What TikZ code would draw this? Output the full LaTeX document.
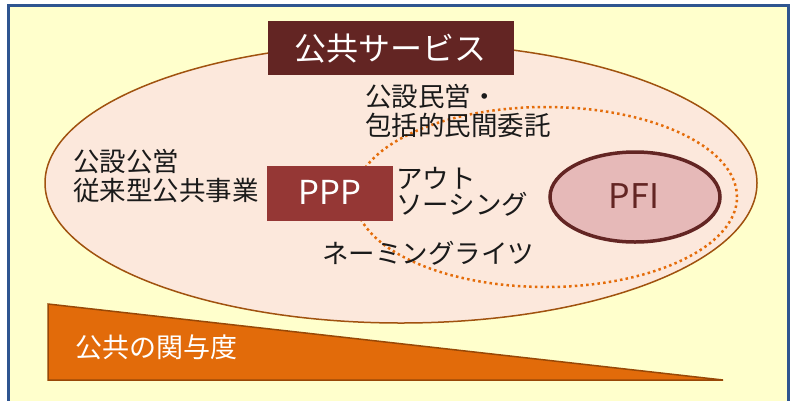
\documentclass[tikz,border=0pt]{standalone}
\usepackage{fontspec}
\setmainfont{Noto Sans CJK JP}
\usetikzlibrary{shapes.geometric}
\definecolor{bgyellow}{HTML}{FFFFCC}
\definecolor{framec}{HTML}{2F5590}
\definecolor{ellfill}{HTML}{FCE8DC}
\definecolor{elldraw}{HTML}{A0520F}
\definecolor{titlec}{HTML}{632523}
\definecolor{pppc}{HTML}{953735}
\definecolor{pfifill}{HTML}{E6B9B8}
\definecolor{dotc}{HTML}{E46C0A}
\definecolor{trifill}{HTML}{E26B0A}
\definecolor{tridraw}{HTML}{984807}
\definecolor{txt}{HTML}{1A1A1A}
\tikzset{
  lbl/.style={anchor=base west, inner sep=0pt, text=txt, font=\fontsize{26.5}{28}\selectfont},
}
\begin{document}
\begin{tikzpicture}[x=1pt,y=-1pt]
\useasboundingbox (0,0) rectangle (795,400);
\clip (0,0) rectangle (795,400);
\fill[white] (0,0) rectangle (795,400);
% frame
\draw[framec, line width=3pt, fill=bgyellow] (8,5) rectangle (788,412);
% big ellipse
\node[ellipse, draw=elldraw, line width=1.5pt, fill=ellfill, minimum width=712pt, minimum height=280pt, inner sep=0pt] (big) at (401,183) {};
% dotted ellipse
\node[ellipse, draw=dotc, line width=2.5pt, dash pattern=on 2.5pt off 3.2pt, minimum width=382pt, minimum height=180pt, inner sep=0pt] (dots) at (546,197) {};
% PFI
\node[ellipse, draw=titlec, line width=3.5pt, fill=pfifill, minimum width=170pt, minimum height=90pt, inner sep=0pt] (pfi) at (635,197) {};
\node[anchor=base, inner sep=0pt, text=titlec, font=\fontsize{34}{34}\selectfont] (pfit) at (634,208) {PFI};
% title
\node[fill=titlec, minimum width=246pt, minimum height=54pt, inner sep=0pt] (title) at (391,48) {};
\node[anchor=base, inner sep=0pt, text=white, font=\fontsize{32}{32}\selectfont] (titlet) at (390,60) {公共サービス};
% PPP
\node[fill=pppc, minimum width=126pt, minimum height=55pt, inner sep=0pt] (ppp) at (330,193.5) {};
\node[anchor=base, inner sep=0pt, text=white, font=\fontsize{33}{33}\selectfont] (pppt) at (330,204.5) {PPP};
% labels
\node[lbl] (a1) at (73,171) {公設公営};
\node[lbl] (a2) at (73,200) {従来型公共事業};
\node[lbl] (b1) at (365,106) {公設民営・};
\node[lbl] (b2) at (365,135) {包括的民間委託};
\node[lbl] (c1) at (396,188) {アウト};
\node[lbl] (c2) at (396,214) {ソーシング};
\node[lbl] (d1) at (322,263) {ネーミングライツ};
% triangle
\draw[tridraw, line width=1.5pt, fill=trifill] (48,304) -- (48,380) -- (723,380) -- cycle;
\node[anchor=base west, inner sep=0pt, text=white, font=\fontsize{27}{27}\selectfont] (e1) at (75,357) {公共の関与度};
\end{tikzpicture}
\end{document}
